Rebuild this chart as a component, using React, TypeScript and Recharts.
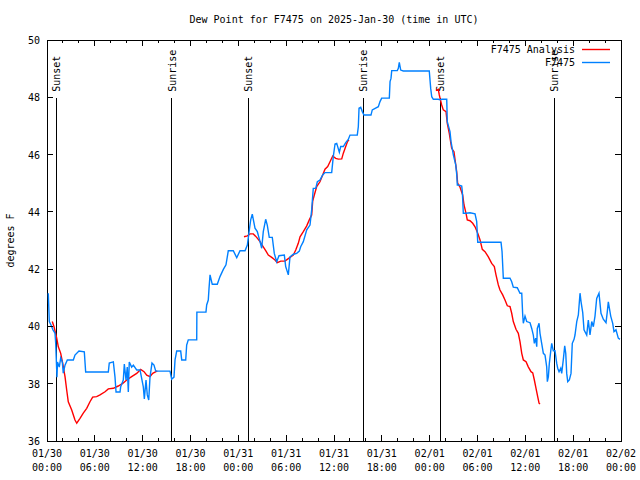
import { LineChart, Line, XAxis, YAxis, ReferenceLine, ReferenceArea } from "recharts";

// hours since 2025-01-30 00:00 UTC
const obsHours = [
  0.16, 0.29, 0.5, 0.75, 1.0, 1.09, 1.25, 1.32, 1.54, 1.72,
  1.92, 2.04, 2.26, 2.55, 3.3, 3.51, 4.01, 4.68, 4.85, 7.69,
  7.81, 8.32, 8.53, 8.66, 9.16, 9.24, 9.57, 9.7, 9.91, 10.07,
  10.2, 10.32, 10.62, 10.83, 11.25, 11.67, 12.08, 12.21, 12.42, 12.58,
  12.76, 12.92, 13.17, 13.42, 13.64, 15.43, 15.64, 15.93, 16.06, 16.27,
  16.77, 16.9, 17.4, 17.52, 17.72, 18.78, 18.8, 19.94, 20.03, 20.23,
  20.32, 20.45, 20.73, 21.36, 21.7, 22.12, 22.45, 22.74, 23.37, 23.8,
  24.21, 24.84, 25.13, 25.38, 25.55, 25.75, 26.09, 26.38, 26.72, 26.93,
  27.13, 27.43, 27.63, 27.88, 28.26, 28.51, 28.81, 29.1, 29.77, 29.94,
  30.27, 30.48, 30.9, 31.32, 31.65, 31.82, 32.15, 32.58, 32.99, 33.2,
  33.4, 33.71, 33.91, 34.24, 34.58, 34.87, 35.71, 35.91, 36.13, 36.34,
  36.67, 36.84, 37.17, 37.47, 37.79, 38.01, 38.92, 39.05, 39.14, 39.35,
  39.55, 39.76, 40.64, 40.8, 41.56, 41.77, 41.98, 42.94, 43.03, 43.15,
  43.24, 43.94, 44.07, 44.19, 44.37, 44.69, 47.95, 48.13, 48.26, 48.46,
  49.08, 49.3, 49.51, 50.14, 50.21, 50.55, 50.68, 50.97, 51.27, 51.4,
  51.47, 51.6, 52.02, 52.1, 52.22, 52.56, 53.06, 53.69, 53.9, 54.03,
  56.95, 57.08, 57.24, 58.08, 58.29, 58.49, 58.99, 59.33, 59.55, 59.67,
  59.75, 59.96, 60.17, 60.59, 60.8, 61.0, 61.13, 61.3, 61.43, 61.5,
  61.72, 61.84, 62.05, 62.26, 62.47, 62.68, 62.76, 62.89, 63.01, 63.18,
  63.31, 63.51, 63.72, 63.94, 64.06, 64.23, 64.44, 64.56, 64.76, 64.94,
  65.07, 65.19, 65.32, 65.52, 65.73, 65.89, 66.11, 66.23, 66.45, 66.65,
  66.86, 66.99, 67.2, 67.36, 67.7, 67.9, 68.11, 68.33, 68.53, 68.74,
  68.95, 69.24, 69.49, 69.78, 70.12, 70.28, 70.41, 70.71, 70.96, 71.12,
  71.37, 71.66, 71.87,
];

const obsTemps = [
  41.16, 40.17, 40.05, 39.88, 39.77, 39.42, 38.23, 38.76, 38.58, 38.9,
  38.76, 38.37, 38.65, 38.83, 38.83, 39.0, 39.14, 39.11, 38.41, 38.41,
  38.72, 38.76, 38.23, 37.71, 37.71, 37.89, 38.13, 38.69, 38.13, 38.58,
  37.71, 38.76, 38.58, 38.65, 38.48, 38.48, 37.89, 37.47, 38.13, 37.61,
  37.43, 38.23, 38.72, 38.65, 38.44, 38.44, 38.16, 38.23, 38.83, 39.14,
  39.14, 38.83, 38.83, 39.35, 39.53, 39.53, 40.5, 40.5, 40.75, 40.92,
  41.31, 41.8, 41.47, 41.47, 41.74, 41.99, 42.15, 42.64, 42.64, 42.4,
  42.64, 42.64, 42.84, 43.37, 43.72, 43.92, 43.43, 43.31, 42.96, 42.73,
  43.31, 43.74, 43.54, 43.11, 43.11, 42.55, 42.26, 42.47, 42.49, 42.09,
  41.8, 42.43, 42.52, 42.55, 42.63, 42.78, 42.96, 43.37, 43.54, 44.07,
  44.82, 44.82, 45.05, 45.11, 45.29, 45.37, 45.37, 45.93, 46.37, 46.39,
  46.08, 46.28, 46.28, 46.42, 46.53, 46.68, 46.68, 46.97, 47.62, 47.65,
  47.5, 47.38, 47.38, 47.56, 47.67, 47.85, 47.97, 47.97, 48.55, 48.66,
  48.93, 48.93, 49.01, 49.22, 48.95, 48.92, 48.92, 48.31, 48.02, 47.93,
  47.93, 47.91, 47.93, 47.93, 47.15, 46.8, 46.45, 45.99, 45.64, 45.29,
  44.94, 44.94, 44.9, 44.7, 43.95, 43.95, 43.97, 43.93, 43.66, 42.94,
  42.94, 42.61, 41.68, 41.68, 41.56, 41.37, 41.35, 41.16, 41.16, 40.4,
  40.11, 40.36, 40.17, 40.13, 39.93, 39.7, 39.41, 39.59, 39.29, 39.93,
  40.11, 39.76, 39.41, 39.06, 39.0, 38.59, 38.07, 38.25, 38.71, 39.12,
  39.41, 39.15, 39.15, 38.71, 38.54, 38.42, 38.54, 38.36, 38.83, 39.32,
  39.06, 38.36, 38.07, 38.13, 38.36, 39.41, 39.55, 39.7, 40.17, 40.4,
  41.16, 40.86, 40.48, 39.88, 39.7, 40.22, 39.7, 40.17, 39.99, 40.36,
  40.98, 41.16, 40.46, 40.25, 40.13, 40.51, 40.86, 40.36, 40.11, 39.82,
  39.88, 39.59, 39.55,
];

// analysis: null marks a gap in the series
const anaHours = [
  0.66, 0.88, 1.22, 1.42, 1.72, 1.97, 2.26, 2.47, 2.67, 3.1,
  3.51, 3.73, 4.14, 4.55, 4.98, 5.39, 5.73, 6.23, 6.65, 7.28,
  7.69, 8.32, 8.94, 9.5, 10.0, 10.62, 11.25, 11.75, 12.17, 12.51,
  12.92, 13.26, 13.84,
  19.0,
  24.71, 25.13, 25.46, 25.88, 26.3, 26.72, 27.13, 27.47, 27.76, 28.19,
  28.6, 28.89, 29.32, 29.85, 30.14, 30.57, 30.9, 31.2, 31.52, 31.74,
  32.15, 32.58, 32.9, 33.2, 33.33, 33.53, 33.83, 34.24, 34.58, 34.87,
  35.21, 35.5, 35.84, 36.21, 36.54, 36.97, 37.17, 37.47, 37.72, 37.88,
  43.0,
  48.79, 49.08, 49.21, 49.3, 49.51, 49.71, 50.05, 50.21, 50.46, 50.76,
  51.05, 51.39, 51.51, 51.81, 52.14, 52.31, 52.56, 52.72, 53.06, 53.4,
  53.69, 54.03, 54.32, 54.6, 54.94, 55.36, 55.78, 56.11, 56.32, 56.61,
  56.82, 57.16, 57.45, 57.74, 58.08, 58.29, 58.49, 58.83, 59.12, 59.33,
  59.55, 59.75, 60.09, 60.37, 60.71, 60.93, 61.13, 61.34, 61.55, 61.72,
  61.84,
];

const anaTemps = [
  40.17, 39.99, 39.59, 39.29, 39.06, 38.71, 38.25, 37.78, 37.37, 37.08,
  36.73, 36.62, 36.79, 36.97, 37.14, 37.37, 37.53, 37.55, 37.61, 37.72,
  37.82, 37.84, 37.92, 38.01, 38.13, 38.25, 38.36, 38.5, 38.42, 38.3,
  38.25, 38.36, 38.45,
  null,
  43.13, 43.16, 43.23, 43.23, 43.11, 42.96, 42.78, 42.63, 42.49, 42.41,
  42.32, 42.23, 42.28, 42.28, 42.34, 42.43, 42.49, 42.67, 42.9, 43.13,
  43.31, 43.51, 43.72, 43.89, 44.38, 44.59, 44.88, 45.05, 45.29, 45.49,
  45.58, 45.75, 45.95, 45.87, 45.84, 45.85, 46.05, 46.28, 46.47, 46.51,
  null,
  48.23, 48.28, 48.08, 47.97, 47.73, 47.56, 47.5, 47.09, 46.74, 46.22,
  46.1, 45.4, 45.0, 44.86, 44.59, 44.24, 43.95, 43.72, 43.69, 43.6,
  43.48, 43.25, 43.02, 42.69, 42.61, 42.43, 42.2, 42.09, 41.8, 41.45,
  41.27, 41.1, 40.92, 40.72, 40.69, 40.46, 40.17, 39.9, 39.76, 39.47,
  39.06, 38.83, 38.77, 38.59, 38.42, 38.38, 38.13, 37.84, 37.55, 37.32,
  37.29,
];

const sunLabels = ["Sunset", "Sunrise", "Sunset", "Sunrise", "Sunset", "Sunrise"];
const sunHours = [1.13, 15.64, 25.25, 39.68, 49.3, 63.64];

const seriesNames = ["F7475 Analysis", "F7475"];
const seriesColors = ["#ff0000", "#0080ff"];

const dayLabels = ["01/30", "01/31", "02/01", "02/02"];
const hourLabels = ["00:00", "06:00", "12:00", "18:00"];
const xTicks = Array.from({ length: 37 }, (_, i) => i * 2);
const yTicks = [36, 38, 40, 42, 44, 46, 48, 50];

const W = 640;
const H = 480;
const PLOT_LEFT = 47;
const PLOT_RIGHT = 621;
const PLOT_TOP = 40;
const PLOT_BOTTOM = 441;
const FONT = '"DejaVu Sans Mono", "Liberation Mono", monospace';

const obsRows = obsHours.map((t, i) => ({ t, v: obsTemps[i] }));
const anaRows = anaHours.map((t, i) => ({ t, v: anaTemps[i] }));

function XTick({ x, payload }: any) {
  const t = payload.value;
  const major = t % 6 === 0;
  const len = major ? 6 : 3;
  return (
    <g>
      <line x1={x} x2={x} y1={PLOT_BOTTOM} y2={PLOT_BOTTOM - len} stroke="#000" shapeRendering="crispEdges" />
      <line x1={x} x2={x} y1={PLOT_TOP} y2={PLOT_TOP + len} stroke="#000" shapeRendering="crispEdges" />
      {major && (
        <text x={x} textAnchor="middle" fontFamily={FONT} fontSize={10} fill="#000">
          <tspan x={x} y={PLOT_BOTTOM + 16}>{dayLabels[Math.floor(t / 24)]}</tspan>
          <tspan x={x} y={PLOT_BOTTOM + 30}>{hourLabels[(t % 24) / 6]}</tspan>
        </text>
      )}
    </g>
  );
}

function YTick({ y, payload }: any) {
  return (
    <g>
      <line x1={PLOT_LEFT} x2={PLOT_LEFT + 6} y1={y} y2={y} stroke="#000" shapeRendering="crispEdges" />
      <line x1={PLOT_RIGHT} x2={PLOT_RIGHT - 6} y1={y} y2={y} stroke="#000" shapeRendering="crispEdges" />
      <text x={PLOT_LEFT - 7} y={y + 4} textAnchor="end" fontFamily={FONT} fontSize={10} fill="#000">
        {payload.value}
      </text>
    </g>
  );
}

function SunLabel({ viewBox, text }: any) {
  const x = viewBox.x + 4;
  const y = viewBox.y - 6;
  return (
    <text x={x} y={y} transform={`rotate(-90 ${x} ${y})`} fontFamily={FONT} fontSize={10} fill="#000">
      {text}
    </text>
  );
}

export default function App() {
  return (
    <div style={{ position: "absolute", left: 0, top: 0, width: W, height: H, background: "#fff" }}>
      <LineChart width={W} height={H} margin={{ top: PLOT_TOP, right: W - PLOT_RIGHT, left: 0, bottom: 0 }}>
        <XAxis
          type="number"
          dataKey="t"
          domain={[0, 72]}
          ticks={xTicks}
          interval={0}
          height={H - PLOT_BOTTOM}
          tickSize={0}
          tickMargin={0}
          axisLine={false}
          tickLine={false}
          tick={<XTick />}
          allowDataOverflow
        />
        <YAxis
          type="number"
          domain={[36, 50]}
          ticks={yTicks}
          width={PLOT_LEFT}
          tickSize={0}
          tickMargin={0}
          axisLine={false}
          tickLine={false}
          tick={<YTick />}
          allowDataOverflow
          label={{
            content: () => (
              <text
                x={14}
                y={(PLOT_TOP + PLOT_BOTTOM) / 2}
                transform={`rotate(-90 14 ${(PLOT_TOP + PLOT_BOTTOM) / 2})`}
                textAnchor="middle"
                fontFamily={FONT}
                fontSize={10}
                fill="#000"
              >
                degrees F
              </text>
            ),
          }}
        />
        <ReferenceArea x1={0} x2={72} y1={36} y2={50} fill="none" stroke="#000" strokeWidth={1} shapeRendering="crispEdges" ifOverflow="visible" />
        {sunHours.map((t, i) => (
          <ReferenceLine
            key={i}
            segment={[{ x: t, y: 47.98 }, { x: t, y: 36 }]}
            stroke="#000"
            strokeWidth={1}
            shapeRendering="crispEdges"
            label={(p: any) => <SunLabel {...p} text={sunLabels[i]} />}
          />
        ))}
        <Line
          data={anaRows}
          dataKey="v"
          type="linear"
          stroke={seriesColors[0]}
          strokeWidth={1.4}
          dot={false}
          connectNulls={false}
          isAnimationActive={false}
        />
        <Line
          data={obsRows}
          dataKey="v"
          type="linear"
          stroke={seriesColors[1]}
          strokeWidth={1.4}
          dot={false}
          isAnimationActive={false}
        />
      </LineChart>
      <svg width={W} height={H} style={{ position: "absolute", left: 0, top: 0, pointerEvents: "none" }}>
        <text x={(PLOT_LEFT + PLOT_RIGHT) / 2} y={23} textAnchor="middle" fontFamily={FONT} fontSize={10} fill="#000">
          Dew Point for F7475 on 2025-Jan-30 (time in UTC)
        </text>
        {seriesNames.map((name, i) => (
          <g key={name}>
            <text x={575} y={52.5 + i * 13} textAnchor="end" fontFamily={FONT} fontSize={10} fill="#000">
              {name}
            </text>
            <line x1={582} x2={610} y1={49.5 + i * 13} y2={49.5 + i * 13} stroke={seriesColors[i]} strokeWidth={1.4} />
          </g>
        ))}
      </svg>
    </div>
  );
}
